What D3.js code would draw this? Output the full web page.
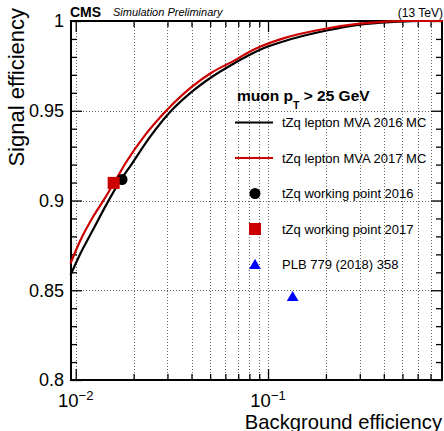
<!DOCTYPE html>
<html>
<head>
<meta charset="utf-8">
<script src="https://cdn.jsdelivr.net/npm/d3@7"></script>
<style>
  html, body { margin: 0; padding: 0; background: #fff; }
  svg { display: block; font-family: "Liberation Sans", Arial, Helvetica, sans-serif; }
</style>
</head>
<body>
<svg id="chart" width="444" height="431"></svg>
<script>
// ROC curves: background efficiency (x) vs signal efficiency (y)
const bkgEff2016 = [0.00939, 0.01058, 0.01240, 0.01455, 0.01671, 0.01963, 0.02434, 0.03094, 0.04009, 0.05096, 0.06737, 0.07899, 0.09089, 0.1200, 0.2016, 0.3001, 0.4297, 0.5201, 0.62, 0.81];
const sigEff2016 = [0.8584, 0.8705, 0.8844, 0.8984, 0.9095, 0.9206, 0.9354, 0.9493, 0.9605, 0.9688, 0.9767, 0.9808, 0.9840, 0.9886, 0.9947, 0.9980, 0.9994, 0.9998, 1.0, 1.0];

const bkgEff2017 = [0.00939, 0.01058, 0.01216, 0.01397, 0.01575, 0.01811, 0.02293, 0.02973, 0.04009, 0.05096, 0.06737, 0.07899, 0.09089, 0.1200, 0.2016, 0.3001, 0.4297, 0.5201, 0.81];
const sigEff2017 = [0.8650, 0.8779, 0.8900, 0.9002, 0.9095, 0.9206, 0.9364, 0.9503, 0.9633, 0.9713, 0.9782, 0.9825, 0.9856, 0.9903, 0.9958, 0.9985, 0.9998, 1.0, 1.0];

// Working points
const wp2016 = [0.01741, 0.9117];
const wp2017 = [0.01575, 0.9098];
const plbPoint = [0.1343, 0.8464];

// Axis ticks
const xMajorTicks = [0.01, 0.1];
const xMinorTicks = [0.02, 0.03, 0.04, 0.05, 0.06, 0.07, 0.08, 0.09, 0.2, 0.3, 0.4, 0.5, 0.6, 0.7, 0.8];
const xTickExponents = ["\u22122", "\u22121"];
const yMajorTicks = [0.8, 0.85, 0.9, 0.95, 1.0];
const yTickLabels = ["0.8", "0.85", "0.9", "0.95", "1"];
const yMinorTicks = d3.range(0.81, 1.0, 0.01).map(v => +v.toFixed(2)).filter(v => !yMajorTicks.some(m => Math.abs(m - v) < 1e-6));

const legendHeader = ["muon p", "T", " > 25 GeV"];
const legendLabels = ["tZq lepton MVA 2016 MC", "tZq lepton MVA 2017 MC", "tZq working point 2016", "tZq working point 2017", "PLB 779 (2018) 358"];

const RED = "#cc0000", BLUE = "#0000ff";
const LINE_W = 2.2;

const svg = d3.select("#chart");
const L = 71, R = 442, T = 21, B = 380;

const x = d3.scaleLog().domain([0.00945, 0.803]).range([L, R]);
const y = d3.scaleLinear().domain([0.8, 1.0]).range([B, T]);

// Dotted grid
const grid = svg.append("g").attr("stroke", "#666").attr("stroke-width", 1).attr("stroke-dasharray", "1,2");
grid.selectAll("line.gx").data(xMajorTicks.concat(xMinorTicks)).join("line")
  .attr("x1", d => Math.round(x(d)) + 0.5).attr("x2", d => Math.round(x(d)) + 0.5)
  .attr("y1", T).attr("y2", B);
grid.selectAll("line.gy").data([0.85, 0.9, 0.95]).join("line")
  .attr("y1", d => Math.round(y(d)) + 0.5).attr("y2", d => Math.round(y(d)) + 0.5)
  .attr("x1", L).attr("x2", R);

// Inward tick marks on all four sides, drawn with d3 axes
function styleAxis(g) {
  g.select(".domain").remove();
  g.selectAll(".tick line").attr("stroke", "#000").attr("stroke-width", 1.3);
  g.selectAll(".tick text").remove();
}
svg.append("g").attr("transform", `translate(0,${B})`)
  .call(d3.axisBottom(x).tickValues(xMajorTicks).tickSize(-11)).call(styleAxis);
svg.append("g").attr("transform", `translate(0,${B})`)
  .call(d3.axisBottom(x).tickValues(xMinorTicks).tickSize(-6)).call(styleAxis);
svg.append("g").attr("transform", `translate(0,${T})`)
  .call(d3.axisTop(x).tickValues(xMajorTicks).tickSize(-11)).call(styleAxis);
svg.append("g").attr("transform", `translate(0,${T})`)
  .call(d3.axisTop(x).tickValues(xMinorTicks).tickSize(-6)).call(styleAxis);
svg.append("g").attr("transform", `translate(${L},0)`)
  .call(d3.axisLeft(y).tickValues(yMajorTicks).tickSize(-11)).call(styleAxis);
svg.append("g").attr("transform", `translate(${L},0)`)
  .call(d3.axisLeft(y).tickValues(yMinorTicks).tickSize(-6)).call(styleAxis);
svg.append("g").attr("transform", `translate(${R},0)`)
  .call(d3.axisRight(y).tickValues(yMajorTicks).tickSize(-11)).call(styleAxis);
svg.append("g").attr("transform", `translate(${R},0)`)
  .call(d3.axisRight(y).tickValues(yMinorTicks).tickSize(-6)).call(styleAxis);

// Frame
svg.append("rect").attr("x", L).attr("y", T).attr("width", R - L).attr("height", B - T)
  .attr("fill", "none").attr("stroke", "#000").attr("stroke-width", 2);

// Y tick labels
svg.append("g").selectAll("text").data(yMajorTicks).join("text")
  .attr("x", 64).attr("y", d => y(d)).attr("dy", "0.36em")
  .attr("text-anchor", "end").attr("font-size", 18)
  .text((d, i) => yTickLabels[i]);

// X tick labels with exponents
const xl = svg.append("g").selectAll("text").data(xMajorTicks).join("text")
  .attr("x", d => x(d)).attr("y", 407).attr("text-anchor", "middle").attr("font-size", 18.5);
xl.append("tspan").text("10");
xl.append("tspan").attr("dy", -7).attr("font-size", 13).text((d, i) => xTickExponents[i]);

// Axis titles
svg.append("text").attr("x", 442).attr("y", 428.5).attr("text-anchor", "end")
  .attr("font-size", 20.2).text("Background efficiency");
svg.append("text").attr("transform", "translate(24,8) rotate(-90)").attr("text-anchor", "end")
  .attr("font-size", 22).text("Signal efficiency");

// Header
svg.append("text").attr("x", 70).attr("y", 16.5).attr("font-size", 14).attr("font-weight", "bold").text("CMS");
svg.append("text").attr("x", 113).attr("y", 16).attr("font-size", 11).attr("font-style", "italic").text("Simulation Preliminary");
svg.append("text").attr("x", 443).attr("y", 16.5).attr("text-anchor", "end").attr("font-size", 12).text("(13 TeV)");

// ROC curves
const line = d3.line().x(d => x(d[0])).y(d => y(d[1])).curve(d3.curveMonotoneX);
svg.append("path").datum(d3.zip(bkgEff2016, sigEff2016))
  .attr("d", line).attr("fill", "none").attr("stroke", "#000").attr("stroke-width", LINE_W);
svg.append("path").datum(d3.zip(bkgEff2017, sigEff2017))
  .attr("d", line).attr("fill", "none").attr("stroke", RED).attr("stroke-width", LINE_W);

// Markers
const tri = d3.symbol().type(d3.symbolTriangle).size(60);
svg.append("circle").attr("cx", x(wp2016[0])).attr("cy", y(wp2016[1])).attr("r", 5.5).attr("fill", "#000");
svg.append("rect").attr("x", x(wp2017[0]) - 6).attr("y", y(wp2017[1]) - 6).attr("width", 12).attr("height", 12).attr("fill", RED);
svg.append("path").attr("d", tri).attr("transform", `translate(${x(plbPoint[0])},${y(plbPoint[1]) + 1})`).attr("fill", BLUE);

// Legend
const hdr = svg.append("text").attr("x", 237).attr("y", 100.5).attr("font-size", 15.5).attr("font-weight", "bold");
hdr.append("tspan").text(legendHeader[0]);
hdr.append("tspan").attr("dy", 8.5).attr("font-size", 10.5).text(legendHeader[1]);
hdr.append("tspan").attr("dy", -8.5).text(legendHeader[2]);

const legY = i => 122.5 + i * 35.5;
svg.append("g").selectAll("text").data(legendLabels).join("text")
  .attr("x", 282).attr("y", (d, i) => legY(i)).attr("dy", "0.36em").attr("font-size", 13).text(d => d);
svg.append("line").attr("x1", 235).attr("x2", 273).attr("y1", legY(0)).attr("y2", legY(0)).attr("stroke", "#000").attr("stroke-width", LINE_W);
svg.append("line").attr("x1", 235).attr("x2", 273).attr("y1", legY(1)).attr("y2", legY(1)).attr("stroke", RED).attr("stroke-width", LINE_W);
svg.append("circle").attr("cx", 255).attr("cy", legY(2)).attr("r", 5.5).attr("fill", "#000");
svg.append("rect").attr("x", 249).attr("y", legY(3) - 6).attr("width", 12).attr("height", 12).attr("fill", RED);
svg.append("path").attr("d", tri).attr("transform", `translate(255,${legY(4) + 1})`).attr("fill", BLUE);
</script>
</body>
</html>
